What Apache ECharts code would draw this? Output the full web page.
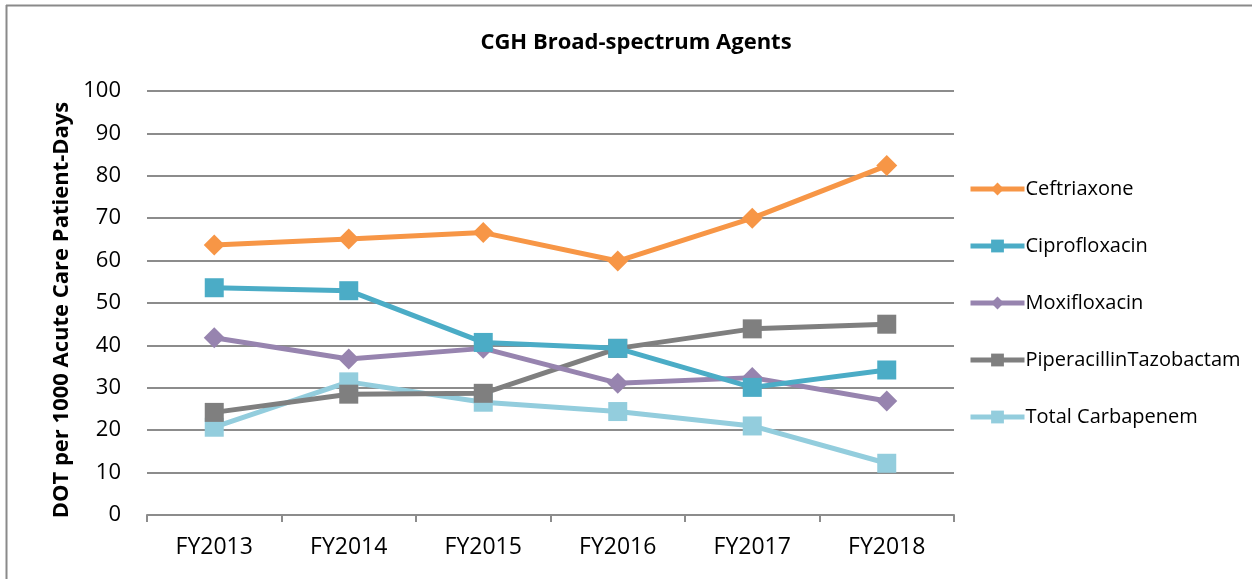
<!DOCTYPE html>
<html><head><meta charset="utf-8">
<script src="https://cdn.jsdelivr.net/npm/echarts@6/dist/echarts.min.js"></script>
<style>html,body{margin:0;padding:0;background:#fff}#c{width:1253px;height:579px}</style>
</head><body><div id="c"></div>
<script>
const categories = ['FY2013','FY2014','FY2015','FY2016','FY2017','FY2018'];
const ceftriaxone = [63.7, 65.1, 66.6, 59.9, 70.0, 82.4];
const ciprofloxacin = [53.6, 52.9, 40.7, 39.3, 30.1, 34.2];
const moxifloxacin = [41.8, 36.8, 39.3, 31.1, 32.4, 26.9];
const piperacillinTazobactam = [24.2, 28.5, 28.7, 39.3, 43.9, 45.0];
const totalCarbapenem = [20.7, 31.4, 26.6, 24.4, 21.0, 12.2];
const seriesNames = ['Ceftriaxone','Ciprofloxacin','Moxifloxacin','PiperacillinTazobactam','Total Carbapenem'];
const seriesData = [ceftriaxone, ciprofloxacin, moxifloxacin, piperacillinTazobactam, totalCarbapenem];
const colors = ['#F79646','#4BACC6','#9784AF','#7F7F7F','#93CDDD'];
const symbols = ['diamond','rect','diamond','rect','rect'];
const symbolSizes = [[21,21],[19,19],[21,21],[19,19],[19,19]];
const FONT = '"Open Sans", sans-serif';

const chart = echarts.init(document.getElementById('c'));
chart.setOption({
  animation: false,
  color: colors,
  textStyle: {fontFamily: FONT},
  title: {
    text: 'CGH Broad-spectrum Agents',
    left: 631, top: 27, textAlign: 'center',
    textStyle: {fontFamily: FONT, fontWeight: 'bold', fontSize: 22, color: '#000'}
  },
  graphic: [
    {type:'line', shape:{x1:6.5,y1:5,x2:6.5,y2:579}, style:{stroke:'#8a8a8a', lineWidth:2}},
    {type:'line', shape:{x1:6,y1:5.5,x2:1252,y2:5.5}, style:{stroke:'#8a8a8a', lineWidth:2}}
  ],
  grid: {left: 147, right: 299, top: 91, bottom: 64, containLabel: false},
  legend: {
    orient: 'vertical', left: 963, top: 172,
    itemWidth: 54, itemHeight: 16, itemGap: 33,
    lineStyle: {width: 5},
    textStyle: {fontFamily: FONT, fontSize: 20, color: '#000', padding:[0,0,0,-4], lineHeight: 24},
    data: seriesNames
  },
  xAxis: {
    type: 'category', data: categories, boundaryGap: true,
    axisLine: {lineStyle: {color: '#8c8c8c', width: 2}},
    axisTick: {show: true, length: 7, lineStyle: {color: '#8c8c8c', width: 2}},
    axisLabel: {fontFamily: FONT, fontSize: 23, color: '#000', margin: 21}
  },
  yAxis: {
    type: 'value', min: 0, max: 100, interval: 10,
    name: 'DOT per 1000 Acute Care Patient-Days', nameLocation: 'middle', nameGap: 74,
    nameTextStyle: {fontFamily: FONT, fontWeight: 'bold', fontSize: 22, color: '#000', padding: [0, 14, 0, 0]},
    axisLine: {show: false}, axisTick: {show: false},
    axisLabel: {fontFamily: FONT, fontSize: 22, color: '#000', margin: 26},
    splitLine: {lineStyle: {color: '#8c8c8c', width: 2}}
  },
  series: seriesNames.map((n, i) => ({
    name: n, type: 'line', data: seriesData[i],
    symbol: symbols[i], symbolSize: symbolSizes[i],
    lineStyle: {width: 5, color: colors[i]},
    itemStyle: {color: colors[i]},
    z: 10 - i
  }))
});
</script></body></html>
